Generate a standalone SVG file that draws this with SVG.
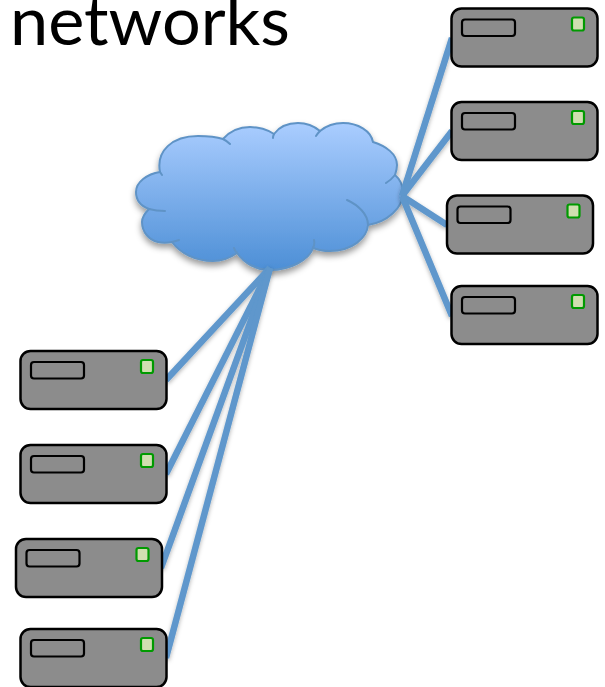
<svg xmlns="http://www.w3.org/2000/svg" xmlns:xlink="http://www.w3.org/1999/xlink" width="605" height="687" viewBox="0 0 605 687">
<style>
.box{fill:#8c8c8c;stroke:#000;stroke-width:2.500}
.slot{fill:#8c8c8c;stroke:#000;stroke-width:2.200}
.led{fill:#d0dfb0;stroke:#009a00;stroke-width:2.200}
.link{stroke:#5e97cc;stroke-width:6.500;fill:none}
.arc{fill:none;stroke:#5f93c6;stroke-width:2;stroke-linecap:round}
.title{font-family:"Lato","Open Sans","Liberation Sans",sans-serif;font-size:67px;fill:#000}
</style>
<defs>
<linearGradient id="sky" x1="0" y1="0" x2="0" y2="1">
<stop offset="0" stop-color="#aacdff"/><stop offset="1" stop-color="#4d8fd6"/>
</linearGradient>
<filter id="soft" x="-10%" y="-10%" width="120%" height="125%">
<feDropShadow dx="0" dy="4" stdDeviation="3" flood-color="#000" flood-opacity="0.4"/>
</filter>
<filter id="softline" x="-10%" y="-10%" width="120%" height="120%">
<feDropShadow dx="0" dy="2" stdDeviation="2" flood-color="#000" flood-opacity="0.3"/>
</filter>
<g id="server">
<rect class="box" x="0" y="0" width="146" height="58" rx="10"/>
<rect class="slot" x="10.500" y="11" width="53" height="16.500" rx="3"/>
<rect class="led" x="120.500" y="9" width="12" height="13" rx="2"/>
</g>
</defs>
<text id="title" class="title" x="10" y="45" textLength="280" lengthAdjust="spacingAndGlyphs">networks</text>
<g id="cloud">
<path filter="url(#soft)" fill="url(#sky)" stroke="#5f93c6" stroke-width="2" d="M160 172C156 151 172 136 198 136C208 136 217 137 223 139C230 131 240 127 250 127C259 127 268 130 274 134C279 127 288 123 298 123C306 123 314 126 320 131C326 126 334 123 343 123C358 123 371 131 373 142C386 146 397 154 397 165C397 169 396 172 395 175C401 180 403 187 403 193C403 208 387 222 368 225C367 238 352 251 330 251C323 251 318 250 313 248C309 260 290 270 270 270C256 270 244 263 237 253C230 258 222 261 213 261C195 261 180 253 172 242C167 243 162 243 158 242C149 240 142 232 142 222C142 217 145 213 149 209C141 206 136 200 136 192C136 182 147 174 160 172Z"/>
<path class="arc" d="M160 172L162 175M223 139Q227 141 230 144M274 134Q273 136 273 138M320 131Q318 133 316 136M395 175Q391 180 386 183M347 200C358 205 368 214 368 225M313 248Q315 244 314 240M237 253Q235 251 234 248M172 242Q176 241 179 240M149 209Q156 211 165 211"/>
</g>
<g id="connectors" filter="url(#softline)">
<line class="link" x1="270" y1="268" x2="166" y2="380"/>
<line class="link" x1="270" y1="268" x2="166" y2="474"/>
<line class="link" x1="270" y1="268" x2="161" y2="568"/>
<line class="link" x1="270" y1="268" x2="166" y2="658"/>
<line class="link" x1="402" y1="196" x2="452" y2="38"/>
<line class="link" x1="402" y1="196" x2="452" y2="131"/>
<line class="link" x1="402" y1="196" x2="447" y2="225"/>
<line class="link" x1="402" y1="196" x2="452" y2="316"/>
</g>
<use id="server-l1" href="#server" x="20.500" y="351"/>
<use id="server-l2" href="#server" x="20.500" y="445"/>
<use id="server-l3" href="#server" x="16" y="539"/>
<use id="server-l4" href="#server" x="20.500" y="629"/>
<use id="server-r1" href="#server" x="451.500" y="8.500"/>
<use id="server-r2" href="#server" x="451.500" y="102"/>
<use id="server-r3" href="#server" x="447" y="195.500"/>
<use id="server-r4" href="#server" x="451.500" y="286"/>
</svg>
